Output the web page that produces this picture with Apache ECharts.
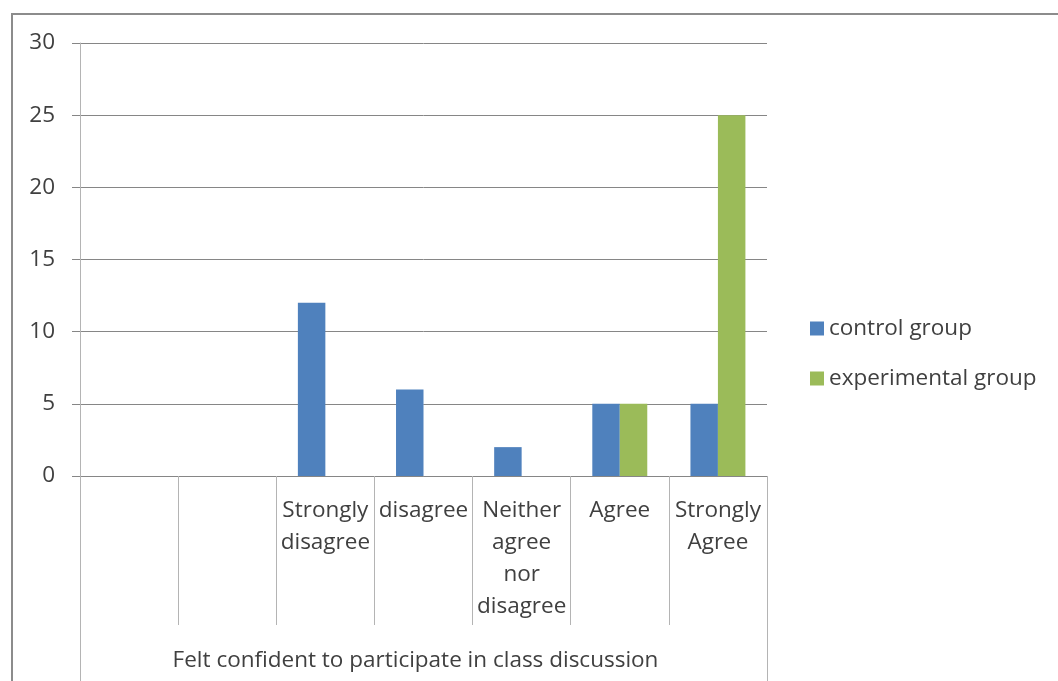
<!DOCTYPE html>
<html>
<head>
<meta charset="utf-8">
<script src="https://cdn.jsdelivr.net/npm/echarts@6/dist/echarts.min.js"></script>
<style>
  html, body { margin: 0; padding: 0; background: #fff; }
  #wrap { position: relative; width: 1058px; height: 681px; overflow: hidden; }
  #chart { position: absolute; left: 0; top: 0; width: 1058px; height: 681px; }
  #frame { position: absolute; left: 11px; top: 13px; width: 1100px; height: 700px;
           border-left: 2px solid #8c8c8c; border-top: 2px solid #8c8c8c; pointer-events: none; }
</style>
</head>
<body>
<div id="wrap">
  <div id="chart"></div>
  <div id="frame"></div>
</div>
<script>
// Response categories (the first two slots are blank in the sheet)
const categories = ['', '', 'Strongly disagree', 'disagree', 'Neither agree nor disagree', 'Agree', 'Strongly Agree'];
const groupLabel = 'Felt confident to participate in class discussion';
const controlGroup = [null, null, 12, 6, 2, 5, 5];
const experimentalGroup = [null, null, 0, 0, 0, 5, 25];
const seriesNames = ['control group', 'experimental group'];
const yTicks = { min: 0, max: 30, step: 5 };

const FONT = '"Open Sans"';
const FS = 22.5;
const TEXT = '#404040';
const GRID = '#868686';
const TICK = '#b4b4b4';

const chart = echarts.init(document.getElementById('chart'), null, { renderer: 'canvas' });
chart.setOption({
  animation: false,
  textStyle: { fontFamily: FONT },
  color: ['#4F81BD', '#9BBB59'],
  grid: { left: 80, right: 291, top: 43, bottom: 205, containLabel: false },
  legend: {
    orient: 'vertical',
    left: 805,
    top: 312,
    icon: 'rect',
    itemWidth: 14,
    itemHeight: 14,
    itemGap: 27,
    textStyle: { fontFamily: FONT, fontSize: FS, color: TEXT, lineHeight: 23 },
    data: seriesNames
  },
  xAxis: [
    {
      type: 'category',
      data: categories,
      axisLine: { show: true, lineStyle: { color: GRID, width: 1 } },
      axisTick: { show: true, interval: 0, length: 149, lineStyle: { color: TICK, width: 1 } },
      axisLabel: {
        interval: 0,
        margin: 19,
        fontFamily: FONT,
        fontSize: FS,
        lineHeight: 32,
        color: TEXT,
        align: 'center',
        formatter: v => v.split(' ').join('\n')
      }
    },
    {
      // outer level of the category axis: one group spanning all responses
      type: 'category',
      position: 'bottom',
      data: [groupLabel],
      axisLine: { show: false },
      axisTick: { show: true, length: 206, lineStyle: { color: TICK, width: 1 } },
      axisLabel: { margin: 173, fontFamily: FONT, fontSize: FS, color: TEXT, padding: [0, 16, 0, 0] }
    }
  ],
  yAxis: {
    type: 'value',
    min: yTicks.min,
    max: yTicks.max,
    interval: yTicks.step,
    axisLine: { show: true, lineStyle: { color: TICK, width: 1 } },
    axisTick: { show: true, length: 8, lineStyle: { color: GRID } },
    axisLabel: { margin: 25, fontFamily: FONT, fontSize: FS, color: TEXT },
    splitLine: { show: true, lineStyle: { color: GRID, width: 1 } }
  },
  series: [
    {
      name: seriesNames[0],
      type: 'bar',
      data: controlGroup,
      barGap: '0%',
      barCategoryGap: '44%'
    },
    {
      name: seriesNames[1],
      type: 'bar',
      data: experimentalGroup,
      barGap: '0%',
      barCategoryGap: '44%'
    }
  ]
});
</script>
</body>
</html>
